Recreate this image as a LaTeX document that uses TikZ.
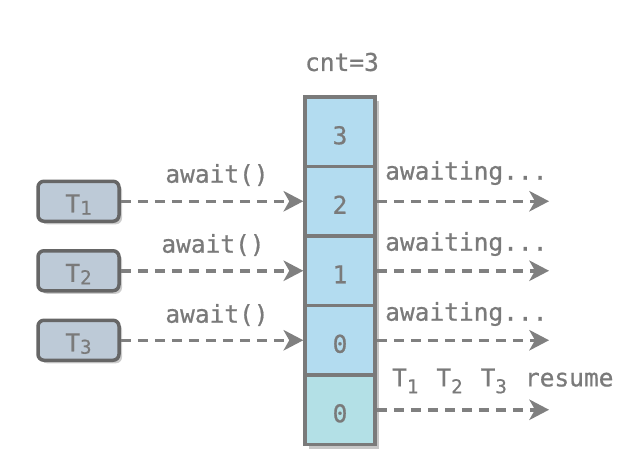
\documentclass[tikz,border=0pt]{standalone}
\usepackage{fontspec}
\newfontfamily\mymono{DejaVu Sans Mono}[FakeBold=0.7]
\usetikzlibrary{arrows.meta,shadows}
\definecolor{cellblue}{HTML}{B3DCF0}
\definecolor{celllast}{HTML}{B3E0E6}
\definecolor{tfill}{HTML}{BDCAD7}
\definecolor{tdraw}{HTML}{666666}
\definecolor{celldraw}{HTML}{7A7A7A}
\definecolor{txt}{HTML}{7A7A7A}
\definecolor{arr}{HTML}{808080}
\newcommand{\subd}[1]{\makebox[0.602em][l]{\raisebox{-0.28em}{\fontsize{19pt}{19pt}\selectfont #1}}}
\newcommand{\subb}[1]{\raisebox{-0.1em}{\fontsize{19pt}{19pt}\selectfont #1}}
\begin{document}
\begin{tikzpicture}[x=1pt,y=-1pt,
  every node/.style={font=\mymono\fontsize{24.5pt}{26pt}\selectfont, text=txt},
  cell/.style={draw=celldraw, line width=3.5pt, fill=cellblue, minimum width=70pt, minimum height=69.5pt,
    text height=25pt, text depth=0pt, inner sep=0pt,
    drop shadow={shadow xshift=4pt, shadow yshift=-4pt, opacity=0.22, fill=black}},
  tbox/.style={draw=tdraw, line width=3.5pt, fill=tfill, rounded corners=6pt, minimum width=81pt, minimum height=40pt,
    text height=22pt, text depth=0pt, inner sep=0pt,
    drop shadow={shadow xshift=3pt, shadow yshift=-3pt, opacity=0.2, fill=black}},
  dasharrow/.style={draw=arr, line width=3.5pt, dash pattern=on 10pt off 7pt,
    -{Stealth[length=20pt,width=21pt,inset=6pt,line width=0pt]}},
  lbl/.style={inner sep=0pt}
]
\useasboundingbox (0,0) rectangle (632,456);
% column
\node[cell] (c1) at (340,131.75) {3};
\node[cell] (c2) at (340,201.25) {2};
\node[cell] (c3) at (340,270.75) {1};
\node[cell] (c4) at (340,340.25) {0};
\node[cell, fill=celllast] (c5) at (340,409.75) {0};
\node[lbl] (cnt) at (342,62) {cnt=3};
% threads
\node[tbox] (t1) at (78.5,201.25) {T\subb{1}};
\node[tbox] (t2) at (78.5,270.75) {T\subb{2}};
\node[tbox] (t3) at (78.5,340.25) {T\subb{3}};
% left arrows
\draw[dasharrow] (t1.east) -- (c2.west);
\draw[dasharrow] (t2.east) -- (c3.west);
\draw[dasharrow] (t3.east) -- (c4.west);
\node[lbl] (a1) at (217,175) {await()};
\node[lbl] (a2) at (213,245) {await()};
\node[lbl] (a3) at (217,315) {await()};
% right arrows
\coordinate (e2) at (549,201.25);
\coordinate (e3) at (549,270.75);
\coordinate (e4) at (549,340.25);
\coordinate (e5) at (549,409.75);
\draw[dasharrow] (c2.east) -- (e2);
\draw[dasharrow] (c3.east) -- (e3);
\draw[dasharrow] (c4.east) -- (e4);
\draw[dasharrow] (c5.east) -- (e5);
\node[lbl, anchor=west] (w1) at (385,173) {awaiting...};
\node[lbl, anchor=west] (w2) at (385,244) {awaiting...};
\node[lbl, anchor=west] (w3) at (385,314) {awaiting...};
\node[lbl, anchor=west] (r) at (392,381) {T\subd{1} T\subd{2} T\subd{3} resume};
\end{tikzpicture}
\end{document}
